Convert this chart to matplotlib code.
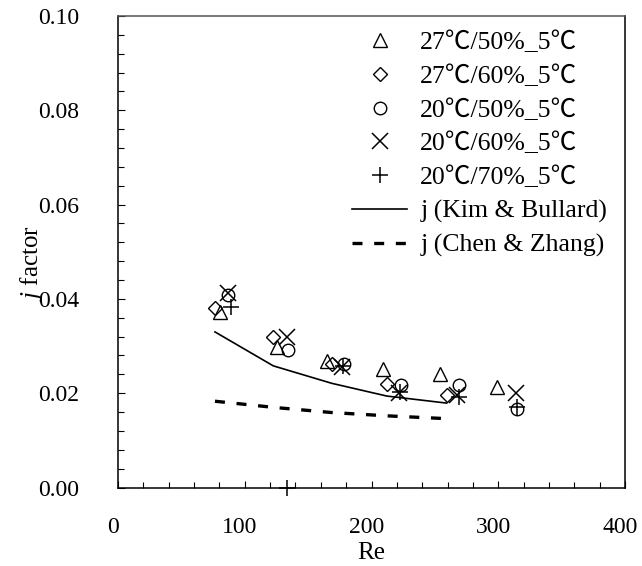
import matplotlib
matplotlib.use("Agg")
import matplotlib.pyplot as plt
from matplotlib.ticker import MultipleLocator
from matplotlib.transforms import ScaledTranslation

plt.rcParams['font.family'] = ['Liberation Serif', 'Noto Sans CJK SC', 'DejaVu Serif']
plt.rcParams['mathtext.fontset'] = 'custom'
plt.rcParams['mathtext.it'] = 'Liberation Serif:italic'
plt.rcParams['mathtext.rm'] = 'Liberation Serif'

# --- data ---
labels = ['27℃/50%_5℃', '27℃/60%_5℃', '20℃/50%_5℃', '20℃/60%_5℃', '20℃/70%_5℃']
re_tri = [80.5, 125.7, 165.1, 208.8, 254.0, 298.8]
j_tri = [0.0372, 0.0297, 0.0269, 0.0251, 0.0241, 0.0213]
re_dia = [76.5, 122.5, 168.6, 212.0, 259.3]
j_dia = [0.0381, 0.0320, 0.0262, 0.0220, 0.0196]
re_cir = [86.8, 134.4, 178.3, 223.0, 269.3, 314.6]
j_cir = [0.0408, 0.0292, 0.0262, 0.0217, 0.0217, 0.0166]
re_x = [87.0, 133.6, 177.0, 222.0, 267.7, 313.8]
j_x = [0.0412, 0.0320, 0.0255, 0.0200, 0.0196, 0.0200]
re_plus = [88.9, 133.0, 177.8, 222.5, 269.3, 314.6]
j_plus = [0.0383, 0.0, 0.0258, 0.0203, 0.0191, 0.0171]

re_kim = [76.5, 122.5, 168.6, 212.0, 259.3]
j_kim = [0.0330, 0.0258, 0.0221, 0.0194, 0.0179]
re_chen = [76.5, 122.5, 168.6, 212.0, 259.3]
j_chen = [0.0183, 0.0170, 0.0159, 0.0152, 0.0146]

x_ticks = [0, 100, 200, 300, 400]
y_ticks = [0.00, 0.02, 0.04, 0.06, 0.08, 0.10]

fig = plt.figure(figsize=(6.42, 5.66), dpi=100)
ax = fig.add_axes([118/642, 1-487.5/566, (625-118)/642, (487.5-16)/566])

mk = dict(linestyle='none', color='black', markerfacecolor='none', clip_on=False)
ax.plot(re_tri, j_tri, marker='^', markersize=10, markeredgewidth=1.0, label=labels[0], **mk)
ax.plot(re_dia, j_dia, marker='D', markersize=7.3, markeredgewidth=1.0, label=labels[1], **mk)
ax.plot(re_cir, j_cir, marker='o', markersize=9, markeredgewidth=1.0, label=labels[2], **mk)
ax.plot(re_x, j_x, marker='x', markersize=11, markeredgewidth=1.1, label=labels[3], **mk)
ax.plot(re_plus, j_plus, marker='+', markersize=12, markeredgewidth=1.1, label=labels[4], **mk)
ax.plot(re_kim, j_kim, color='black', linewidth=1.2, label='j (Kim & Bullard)')
ax.plot(re_chen, j_chen, color='black', linewidth=2.4, dashes=(3, 3.5), label='j (Chen & Zhang)')

ax.set_xlim(0, 400)
ax.set_ylim(0, 0.10)
ax.set_xticks(x_ticks)
ax.set_yticks(y_ticks)
ax.set_xticklabels([str(v) for v in x_ticks])
ax.set_yticklabels(['%.2f' % v for v in y_ticks])
ax.xaxis.set_minor_locator(MultipleLocator(20))
ax.yaxis.set_minor_locator(MultipleLocator(0.004))
ax.tick_params(which='both', direction='in', top=False, right=False, labelsize=17)
ax.tick_params(axis='x', which='major', length=5, width=0.8, pad=21)
ax.tick_params(axis='y', which='major', length=5, width=0.8, pad=28)
ax.tick_params(which='minor', length=4, width=0.8)
for s in ax.spines.values():
    s.set_linewidth(1.1)
ax.spines['top'].set_color('#555555')

# shift x tick labels slightly left as in reference
for lab in ax.get_xticklabels():
    lab.set_transform(lab.get_transform() + ScaledTranslation(-5 / 100, 0, fig.dpi_scale_trans))

ax.set_xlabel('Re', fontsize=18, labelpad=3)
ax.set_ylabel('$\\mathit{j}$ factor', fontsize=18)
ax.yaxis.set_label_coords(-0.144, 0.475)

leg = ax.legend(loc='upper right', bbox_to_anchor=(0.985, 0.99), frameon=False, fontsize=18.5,
                handlelength=2.15, handletextpad=0.5, labelspacing=0.42, borderaxespad=0.0)

fig.savefig('out.png', dpi=100)
